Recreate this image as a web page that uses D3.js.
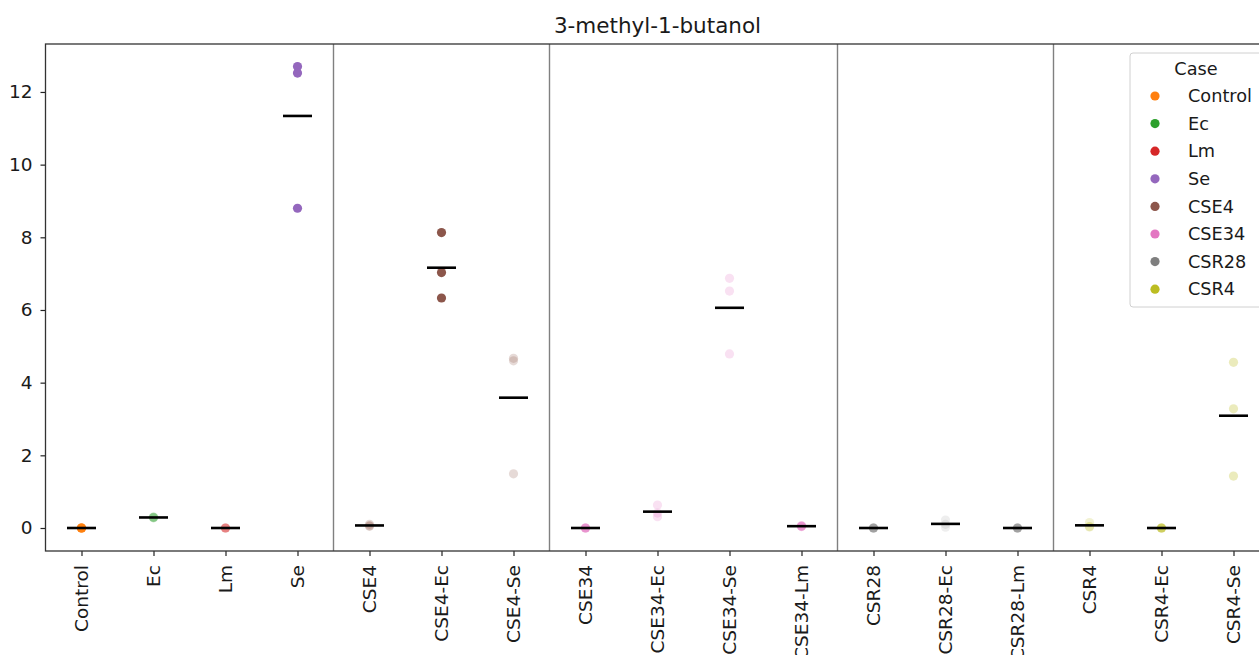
<!DOCTYPE html>
<html>
<head>
<meta charset="utf-8">
<script src="https://cdn.jsdelivr.net/npm/d3@7"></script>
<style>
  html, body { margin: 0; padding: 0; background: #fff; }
  svg { display: block; font-family: "DejaVu Sans", sans-serif; }
</style>
</head>
<body>
<svg id="chart" width="1259" height="655"></svg>
<script>
// Sample labels along the x axis
const categories = ["Control", "Ec", "Lm", "Se",
  "CSE4", "CSE4-Ec", "CSE4-Se",
  "CSE34", "CSE34-Ec", "CSE34-Se", "CSE34-Lm",
  "CSR28", "CSR28-Ec", "CSR28-Lm",
  "CSR4", "CSR4-Ec", "CSR4-Se"];

// Case (colour group) of each sample
const sampleCase = ["Control", "Ec", "Lm", "Se",
  "CSE4", "CSE4", "CSE4",
  "CSE34", "CSE34", "CSE34", "CSE34",
  "CSR28", "CSR28", "CSR28",
  "CSR4", "CSR4", "CSR4"];

// Replicate measurements of 3-methyl-1-butanol per sample
const replicates = [
  [0, 0, 0],
  [0.30, 0.28, 0.29],
  [0, 0, 0],
  [12.70, 12.52, 8.80],
  [0.10, 0.06, 0.05],
  [8.13, 7.03, 6.33],
  [4.67, 4.60, 1.49],
  [0, 0, 0],
  [0.63, 0.31, 0.41],
  [6.87, 6.52, 4.79],
  [0.06, 0.05, 0.04],
  [0, 0, 0],
  [0.22, 0.10, 0.02],
  [0, 0, 0],
  [0.15, 0.04, 0.03],
  [0, 0, 0],
  [4.56, 3.28, 1.43]
];

// Legend entries and tick values
const cases = ["Control", "Ec", "Lm", "Se", "CSE4", "CSE34", "CSR28", "CSR4"];
const caseColors = ["#ff7f0e", "#2ca02c", "#d62728", "#9467bd", "#8c564b", "#e377c2", "#7f7f7f", "#bcbd22"];
const yTicks = [0, 2, 4, 6, 8, 10, 12];
// Boundaries between sample families (drawn after these sample indices)
const groupEnds = [3, 6, 10, 13];

// Point opacity per sample (styling)
const pointOpacity = [0.8, 0.25, 0.25, 1, 0.22, 1, 0.22, 0.4, 0.22, 0.22, 0.4, 0.35, 0.13, 0.35, 0.2, 0.35, 0.3];

const title = "3-methyl-1-butanol";

const svg = d3.select("#chart");
const margin = { left: 45.5, top: 44, bottom: 551 };
const step = 72;
const plotRight = margin.left + step * categories.length;

const x = d3.scalePoint()
  .domain(categories)
  .range([margin.left + step / 2, plotRight - step / 2]);

const y = d3.scaleLinear()
  .domain([-0.633, 13.32])
  .range([margin.bottom, margin.top]);

const color = d3.scaleOrdinal().domain(cases).range(caseColors);

// Family separators
svg.append("g").selectAll("line")
  .data(groupEnds)
  .join("line")
  .attr("x1", d => (x(categories[d]) + x(categories[d + 1])) / 2)
  .attr("x2", d => (x(categories[d]) + x(categories[d + 1])) / 2)
  .attr("y1", margin.top)
  .attr("y2", margin.bottom)
  .attr("stroke", "#808080")
  .attr("stroke-width", 1.4);

// Replicate points
const pts = [];
replicates.forEach((vals, i) => vals.forEach(v => pts.push({ cat: categories[i], c: sampleCase[i], v, a: pointOpacity[i] })));

svg.append("g").selectAll("circle")
  .data(pts)
  .join("circle")
  .attr("cx", d => x(d.cat))
  .attr("cy", d => y(d.v))
  .attr("r", 4.6)
  .attr("fill", d => color(d.c))
  .attr("fill-opacity", d => d.a);

// Mean bars
svg.append("g").selectAll("line")
  .data(categories.map((c, i) => ({ c, m: d3.mean(replicates[i]) })))
  .join("line")
  .attr("x1", d => x(d.c) - 14.5)
  .attr("x2", d => x(d.c) + 14.5)
  .attr("y1", d => y(d.m))
  .attr("y2", d => y(d.m))
  .attr("stroke", "#000")
  .attr("stroke-width", 2.6);

// Axes
const yAxis = svg.append("g")
  .attr("transform", `translate(${margin.left},0)`)
  .call(d3.axisLeft(y).tickValues(yTicks).tickSize(5).tickPadding(8));
yAxis.select(".domain").remove();
yAxis.selectAll("text").attr("font-size", 18.5).attr("fill", "#1a1a1a").attr("font-family", "DejaVu Sans");
yAxis.selectAll("line").attr("stroke", "#222").attr("stroke-width", 1.2);

const xAxis = svg.append("g")
  .attr("transform", `translate(0,${margin.bottom})`)
  .call(d3.axisBottom(x).tickSize(5).tickPadding(0));
xAxis.select(".domain").remove();
xAxis.selectAll("line").attr("stroke", "#222").attr("stroke-width", 1.2);
xAxis.selectAll("text")
  .attr("font-size", 18.5)
  .attr("fill", "#1a1a1a")
  .attr("font-family", "DejaVu Sans")
  .attr("text-anchor", "end")
  .attr("dy", "0.35em")
  .attr("y", 0)
  .attr("transform", "translate(0,14) rotate(-90)");

// Frame
svg.append("rect")
  .attr("x", margin.left)
  .attr("y", margin.top)
  .attr("width", plotRight - margin.left)
  .attr("height", margin.bottom - margin.top)
  .attr("fill", "none")
  .attr("stroke", "#333")
  .attr("stroke-width", 1.3);

// Title
svg.append("text")
  .attr("x", (margin.left + plotRight) / 2)
  .attr("y", 33)
  .attr("text-anchor", "middle")
  .attr("font-size", 21.5)
  .attr("fill", "#1a1a1a")
  .text(title);

// Legend
const lg = svg.append("g");
lg.append("rect")
  .attr("x", 1130).attr("y", 53)
  .attr("width", 140).attr("height", 254)
  .attr("rx", 3)
  .attr("fill", "#fff").attr("fill-opacity", 0.85)
  .attr("stroke", "#d0d0d0");
lg.append("text")
  .attr("x", 1196).attr("y", 75)
  .attr("text-anchor", "middle")
  .attr("font-size", 17.7).attr("fill", "#1a1a1a")
  .text("Case");
const rows = lg.selectAll("g.row")
  .data(cases)
  .join("g")
  .attr("class", "row")
  .attr("transform", (d, i) => `translate(0,${96 + i * 27.6})`);
rows.append("circle")
  .attr("cx", 1155).attr("cy", 0).attr("r", 4.6)
  .attr("fill", d => color(d));
rows.append("text")
  .attr("x", 1188).attr("y", 0).attr("dy", "0.35em")
  .attr("font-size", 17.7).attr("fill", "#1a1a1a")
  .text(d => d);
</script>
</body>
</html>
